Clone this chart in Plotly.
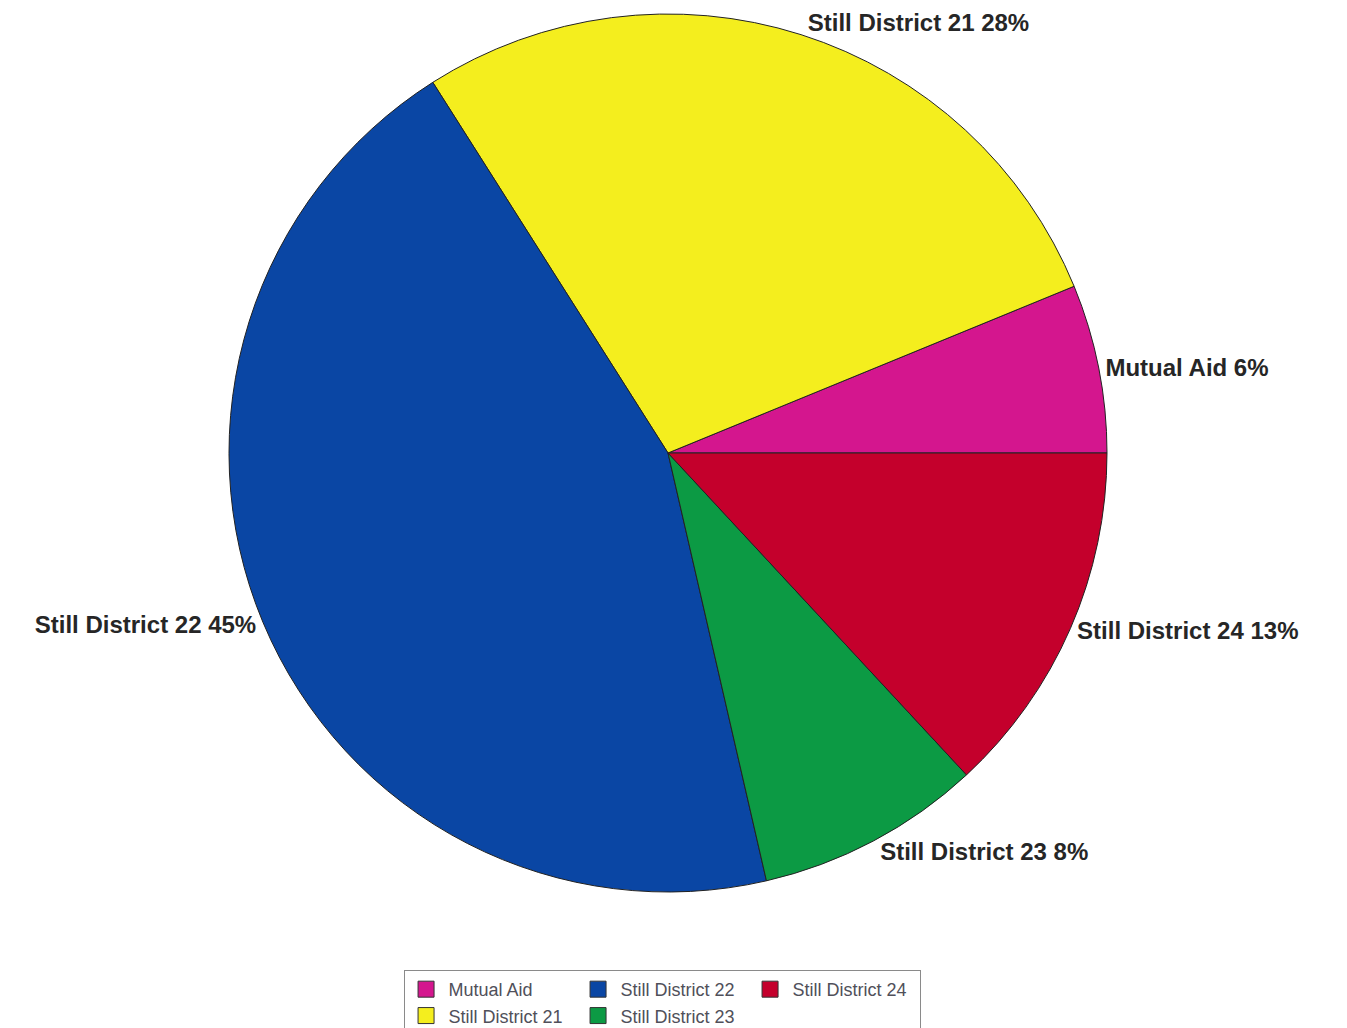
import plotly.graph_objects as go

categories = ["Mutual Aid", "Still District 21", "Still District 22", "Still District 23", "Still District 24"]
values = [6.2, 27.8, 44.6, 8.3, 13.1]
colors = ["#D4168E", "#F4EE1E", "#0A46A4", "#0C9A44", "#C4002C"]

# legend layout: columns (groups) as in the reference
legend_columns = [["Mutual Aid", "Still District 21"],
                  ["Still District 22", "Still District 23"],
                  ["Still District 24"]]

color_of = dict(zip(categories, colors))
first_share = values[0] / sum(values)

fig = go.Figure()
fig.add_trace(go.Pie(
    labels=categories,
    values=values,
    sort=False,
    direction="counterclockwise",
    rotation=90 - 360 * first_share,
    marker=dict(colors=colors, line=dict(color="#222222", width=1)),
    textposition="outside",
    texttemplate="%{label} %{percent:.0%}",
    textfont=dict(family="Liberation Sans, Arial, sans-serif", size=24, color="#262626", weight="bold"),
    showlegend=False,
    domain=dict(x=[0, 1], y=[0, 1]),
))

for gi, col in enumerate(legend_columns):
    for name in col:
        fig.add_trace(go.Scatter(
            x=[None], y=[None], mode="markers", name=name,
            legendgroup=f"g{gi}",
            marker=dict(symbol="square", size=16, color=color_of[name],
                        line=dict(color="#333333", width=1)),
            showlegend=True,
        ))

fig.update_layout(
    width=1339, height=1020,
    margin=dict(l=0, r=19, t=6, b=136, autoexpand=False),
    paper_bgcolor="white", plot_bgcolor="white",
    xaxis=dict(visible=False), yaxis=dict(visible=False),
    legend=dict(
        orientation="h", traceorder="grouped",
        x=0.4955, xanchor="center", y=-0.0888, yanchor="top",
        bordercolor="#8a8a8a", borderwidth=1,
        font=dict(family="Liberation Sans, Arial, sans-serif", size=18, color="#50505a"),
        tracegroupgap=34, itemwidth=35,
        entrywidth=122, entrywidthmode="pixels",
    ),
)

fig.write_html("out.html")
